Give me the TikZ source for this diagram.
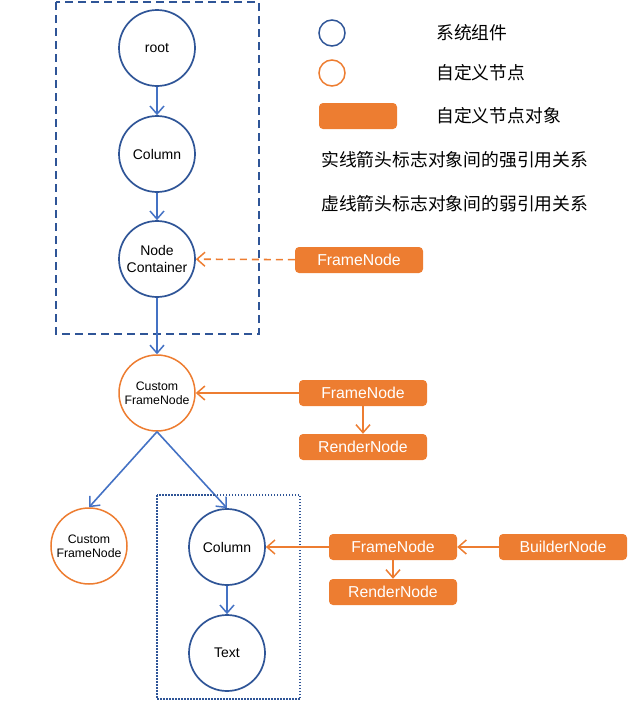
\documentclass[tikz,border=0pt]{standalone}
\usepackage{fontspec}
\setmainfont{Liberation Sans}
\newfontfamily\cjkfont{Noto Sans CJK SC}
\usepackage{tikz}
\usetikzlibrary{positioning}
\usetikzlibrary{arrows.meta}
\definecolor{sysblue}{HTML}{2F5597}
\definecolor{arrowblue}{HTML}{4472C4}
\definecolor{custorange}{HTML}{ED7D31}

\begin{document}
\begin{tikzpicture}
    [
    x=1pt, y=1pt,
    on grid,
    >={Straight Barb[length=8pt,width=14pt,line width=1.5pt]},
    sysnode/.style={circle, draw=sysblue, line width=1.7pt, minimum size=76pt,
        inner sep=0pt, align=center, font=\fontsize{14}{17}\selectfont},
    custnode/.style={circle, draw=custorange, line width=1.5pt, minimum size=76pt,
        inner sep=0pt, align=center, font=\fontsize{12.3}{14.3}\selectfont},
    objbox/.style={rectangle, rounded corners=4pt, fill=custorange, text=white,
        minimum width=128pt, minimum height=26pt, inner sep=0pt,
        font=\fontsize{15.8}{18}\selectfont},
    legend/.style={anchor=west, inner sep=0pt, font=\cjkfont\fontsize{17.8}{20}\selectfont},
    strong/.style={draw=arrowblue, line width=1.6pt, ->},
    own/.style={draw=custorange, line width=1.6pt, ->},
    weak/.style={own, dash pattern=on 7pt off 5pt},
    ]

    \useasboundingbox (0,0) rectangle (634,-710);

    % system components
    \node[sysnode] (sys_root) at (157,-48) {root};

    \node[sysnode, below = 106pt of sys_root] (sys_column)
    {Column}
    edge[strong, <-] (sys_root);

    \node[sysnode, below = 105pt of sys_column] (sys_container)
    {Node\\Container}
    edge[strong, <-] (sys_column);

    \draw[sysblue, line width=1.6pt, dash pattern=on 8pt off 5pt] (56,-2) rectangle (259,-334);

    \node[objbox] (obj_frame_a) at (359,-260) {FrameNode}
    edge[weak] (sys_container);

    % custom frame node
    \node[custnode, below = 134pt of sys_container] (cust_frame)
    {Custom\\FrameNode}
    edge[strong, <-] (sys_container);

    \node[objbox, right = 206pt of cust_frame] (obj_frame_b)
    {FrameNode}
    edge[own] (cust_frame);

    \node[objbox, below = 54pt of obj_frame_b] (obj_render_b)
    {RenderNode}
    edge[own, <-] (obj_frame_b);

    \node[custnode, below left = 153pt and 68pt of cust_frame] (cust_child)
    {Custom\\FrameNode};

    \node[sysnode, below right = 154pt and 70pt of cust_frame] (sys_column_b)
    {Column};

    \draw[strong] (cust_frame.south) -- (cust_child.north);
    \draw[strong] (cust_frame.south) -- (sys_column_b.north);

    \node[sysnode, below = 106pt of sys_column_b] (sys_text)
    {Text}
    edge[strong, <-] (sys_column_b);

    \draw[sysblue, line width=1.4pt, dash pattern=on 1.5pt off 1.5pt] (157,-495) rectangle (300,-699);

    \node[objbox, right = 166pt of sys_column_b] (obj_frame_c)
    {FrameNode}
    edge[own] (sys_column_b);

    \node[objbox, below = 45pt of obj_frame_c] (obj_render_c)
    {RenderNode}
    edge[own, <-] (obj_frame_c);

    \node[objbox, right = 170pt of obj_frame_c] (obj_builder)
    {BuilderNode}
    edge[own] (obj_frame_c);

    % legend
    \node[circle, draw=sysblue, line width=1.5pt, minimum size=26pt] (leg_sys) at (332,-33) {};
    \node[circle, draw=custorange, line width=1.5pt, minimum size=26pt, below = 40pt of leg_sys] (leg_cust) {};
    \node[objbox, minimum width=78pt, below right = 43pt and 26pt of leg_cust] (leg_obj) {};

    \node[legend] (leg_sys_txt) at (436,-33) {系统组件};
    \node[legend] (leg_cust_txt) at (436,-73) {自定义节点};
    \node[legend] (leg_obj_txt) at (436,-116) {自定义节点对象};
    \node[legend] (leg_strong_txt) at (321,-160) {实线箭头标志对象间的强引用关系};
    \node[legend] (leg_weak_txt) at (321,-204) {虚线箭头标志对象间的弱引用关系};
\end{tikzpicture}
\end{document}
